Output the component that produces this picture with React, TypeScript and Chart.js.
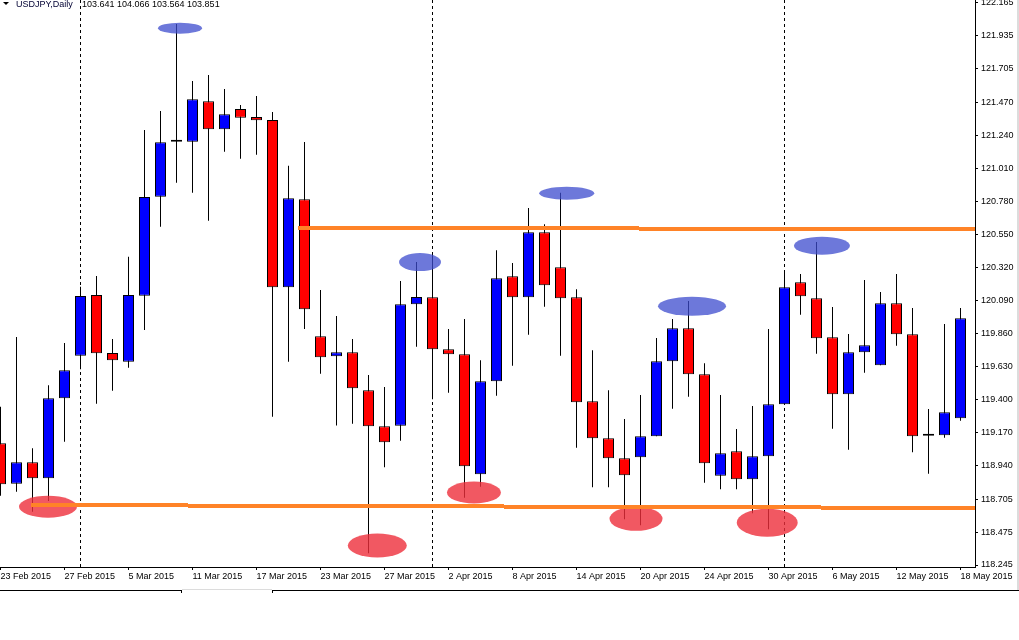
import { useEffect, useRef } from "react";
import { Chart, registerables } from "chart.js";

Chart.register(...registerables);

// ---------- data ----------
const dates = [
  "23 Feb 2015", "24 Feb 2015", "25 Feb 2015", "26 Feb 2015", "27 Feb 2015",
  "2 Mar 2015", "3 Mar 2015", "4 Mar 2015", "5 Mar 2015", "6 Mar 2015",
  "9 Mar 2015", "10 Mar 2015", "11 Mar 2015", "12 Mar 2015", "13 Mar 2015",
  "16 Mar 2015", "17 Mar 2015", "18 Mar 2015", "19 Mar 2015", "20 Mar 2015",
  "23 Mar 2015", "24 Mar 2015", "25 Mar 2015", "26 Mar 2015", "27 Mar 2015",
  "30 Mar 2015", "31 Mar 2015", "1 Apr 2015", "2 Apr 2015", "3 Apr 2015",
  "6 Apr 2015", "7 Apr 2015", "8 Apr 2015", "9 Apr 2015", "10 Apr 2015",
  "13 Apr 2015", "14 Apr 2015", "15 Apr 2015", "16 Apr 2015", "17 Apr 2015",
  "20 Apr 2015", "21 Apr 2015", "22 Apr 2015", "23 Apr 2015", "24 Apr 2015",
  "27 Apr 2015", "28 Apr 2015", "29 Apr 2015", "30 Apr 2015", "1 May 2015",
  "4 May 2015", "5 May 2015", "6 May 2015", "7 May 2015", "8 May 2015",
  "11 May 2015", "12 May 2015", "13 May 2015", "14 May 2015", "15 May 2015",
  "18 May 2015",
];

const opens = [
  119.094, 118.812, 118.961, 118.850, 119.408,
  119.705, 120.128, 119.724, 119.663, 120.123,
  120.814, 121.198, 121.198, 121.479, 121.284,
  121.426, 121.370, 121.349, 120.182, 120.796,
  119.840, 119.701, 119.729, 119.464, 119.213,
  119.217, 120.063, 120.112, 119.750, 119.715,
  118.878, 119.526, 120.259, 120.112, 120.566,
  120.322, 120.112, 119.387, 119.129, 118.989,
  118.996, 119.143, 119.666, 119.896, 119.575,
  118.868, 119.038, 118.843, 119.003, 119.366,
  120.217, 120.105, 119.833, 119.436, 119.729,
  119.638, 120.071, 119.854, 119.147, 119.150,
  119.268,
];

const highs = [
  119.349, 119.835, 119.059, 119.498, 119.794,
  120.186, 120.261, 119.821, 120.395, 121.279,
  121.412, 122.019, 121.621, 121.663, 121.565,
  121.454, 121.516, 121.405, 121.030, 121.196,
  120.163, 119.982, 119.821, 119.570, 119.487,
  120.226, 120.359, 120.407, 119.891, 119.961,
  119.673, 120.440, 120.352, 120.735, 120.621,
  120.842, 120.168, 119.743, 119.464, 119.263,
  119.431, 119.828, 119.961, 120.086, 119.652,
  119.431, 119.194, 119.354, 119.891, 120.296,
  120.275, 120.498, 120.045, 119.856, 120.233,
  120.149, 120.275, 120.038, 119.333, 119.926,
  120.038,
];

const lows = [
  118.728, 118.756, 118.617, 118.691, 119.105,
  119.610, 119.370, 119.461, 119.621, 119.884,
  120.605, 120.912, 120.842, 120.647, 121.128,
  121.079, 121.107, 119.279, 119.663, 119.891,
  119.579, 119.218, 119.231, 118.327, 118.927,
  119.112, 119.768, 119.401, 119.447, 118.714,
  118.791, 119.426, 119.635, 119.851, 120.047,
  119.705, 119.063, 118.787, 118.787, 118.564,
  118.522, 119.143, 119.335, 119.419, 118.819,
  118.773, 118.773, 118.606, 118.494, 119.361,
  119.991, 119.719, 119.196, 119.049, 119.586,
  119.638, 119.775, 119.031, 118.882, 119.133,
  119.252,
];

const closes = [
  118.808, 118.961, 118.850, 119.408, 119.603,
  120.121, 119.722, 119.673, 120.128, 120.812,
  121.193, 121.198, 121.493, 121.284, 121.389,
  121.365, 121.347, 120.182, 120.803, 120.029,
  119.694, 119.729, 119.478, 119.213, 119.101,
  120.063, 120.114, 119.750, 119.715, 118.934,
  119.526, 120.245, 120.112, 120.566, 120.196,
  120.105, 119.380, 119.129, 118.989, 118.871,
  119.143, 119.666, 119.896, 119.575, 118.954,
  119.024, 118.843, 119.003, 119.366, 120.182,
  120.119, 119.826, 119.436, 119.729, 119.778,
  120.071, 119.854, 119.143, 119.147, 119.310,
  119.966,
];

const yTickLabels = [
  "122.165", "121.935", "121.705", "121.470", "121.240", "121.010",
  "120.780", "120.550", "120.320", "120.090", "119.860", "119.630",
  "119.400", "119.170", "118.940", "118.705", "118.475", "118.245",
];
const xTickEvery = 4;

const titleSymbol = "USDJPY,Daily";
const titleValues = "103.641 104.066 103.564 103.851";

// annotations (candle index, price)
const resistanceLine = { fromIdx: 18.6, fromPrice: 120.5973, toPrice: 120.587 };
const supportLine = { fromIdx: 1.9, fromPrice: 118.6635, toPrice: 118.6427 };
const highMarks = [
  { idx: 11.22, price: 121.989 },
  { idx: 26.22, price: 120.358 },
  { idx: 35.39, price: 120.838 },
  { idx: 43.22, price: 120.050 },
  { idx: 51.34, price: 120.472 },
];
const lowMarks = [
  { idx: 2.97, price: 118.652 },
  { idx: 23.55, price: 118.381 },
  { idx: 29.59, price: 118.751 },
  { idx: 39.72, price: 118.567 },
  { idx: 47.92, price: 118.540 },
];

// ---------- styles / layout ----------
const FONT = "'Liberation Sans', Arial, sans-serif";
const BULL = "#0000ff";
const BEAR = "#ff0000";
const ORANGE = "#ff8327";
const HIGH_FILL = "rgba(60,75,205,0.75)";
const LOW_FILL = "rgba(238,46,59,0.8)";
const highMarkR = [[22, 5.5], [21, 9], [27.5, 6.5], [34, 9.5], [28, 9]];
const lowMarkR = [[29, 11], [29.5, 12], [27, 11], [26.5, 12], [30.5, 14]];
const X_MIN = -1 / 32;
const X_MAX = dates.length - 1 + 0.906;
const Y_MAX = 122.1859;
const Y_MIN = 118.2311;

function monthStarts(): number[] {
  const out: number[] = [];
  for (let i = 1; i < dates.length; i++) {
    if (dates[i].split(" ")[1] !== dates[i - 1].split(" ")[1]) out.push(i);
  }
  return out;
}

function drawStepLine(ctx: CanvasRenderingContext2D, x0: number, y0: number, x1: number, y1: number, w: number) {
  const xs = Math.round(x0);
  const xe = Math.round(x1);
  const yAt = (x: number) => Math.round(y0 + ((y1 - y0) * (x - x0)) / (x1 - x0));
  let runStart = xs;
  let runY = yAt(xs);
  for (let x = xs + 1; x <= xe; x++) {
    const y = yAt(x);
    if (y !== runY) {
      ctx.fillRect(runStart, runY - w / 2, x - runStart, w);
      runStart = x;
      runY = y;
    }
  }
  ctx.fillRect(runStart, runY - w / 2, xe - runStart, w);
}

const decoPlugin = {
  id: "mt4deco",
  beforeDatasetsDraw(chart: any) {
    const { ctx, chartArea, scales } = chart;
    ctx.save();
    ctx.strokeStyle = "#000";
    ctx.lineWidth = 1;
    ctx.setLineDash([3, 3]);
    for (const i of monthStarts()) {
      const px = Math.floor(scales.x.getPixelForValue(i)) + 0.5;
      ctx.beginPath();
      ctx.moveTo(px, chartArea.top);
      ctx.lineTo(px, chartArea.bottom);
      ctx.stroke();
    }
    ctx.restore();
  },
  afterDatasetsDraw(chart: any) {
    const { ctx, chartArea, scales } = chart;
    const xs = scales.x;
    const ys = scales.y;
    ctx.save();
    ctx.beginPath();
    ctx.rect(chartArea.left, chartArea.top, chartArea.right - chartArea.left, chartArea.bottom - chartArea.top);
    ctx.clip();
    highMarks.forEach((m, k) => {
      ctx.fillStyle = HIGH_FILL;
      ctx.beginPath();
      ctx.ellipse(xs.getPixelForValue(m.idx), ys.getPixelForValue(m.price), highMarkR[k][0], highMarkR[k][1], 0, 0, Math.PI * 2);
      ctx.fill();
    });
    lowMarks.forEach((m, k) => {
      ctx.fillStyle = LOW_FILL;
      ctx.beginPath();
      ctx.ellipse(xs.getPixelForValue(m.idx), ys.getPixelForValue(m.price), lowMarkR[k][0], lowMarkR[k][1], 0, 0, Math.PI * 2);
      ctx.fill();
    });
    ctx.fillStyle = ORANGE;
    for (const ln of [resistanceLine, supportLine]) {
      drawStepLine(
        ctx,
        xs.getPixelForValue(ln.fromIdx),
        ys.getPixelForValue(ln.fromPrice),
        xs.getPixelForValue(X_MAX),
        ys.getPixelForValue(ln.toPrice),
        4
      );
    }
    ctx.restore();
  },
  afterDraw(chart: any) {
    const { ctx } = chart;
    ctx.save();
    // header
    ctx.fillStyle = "#000";
    ctx.beginPath();
    ctx.moveTo(3, 2);
    ctx.lineTo(9, 2);
    ctx.lineTo(6, 5);
    ctx.closePath();
    ctx.fill();
    ctx.font = `9px ${FONT}`;
    ctx.textBaseline = "alphabetic";
    ctx.textAlign = "left";
    ctx.fillStyle = "#000033";
    ctx.fillText(titleSymbol, 16, 7);
    ctx.fillStyle = "#000";
    ctx.fillText(titleValues, 82, 7);
    // bottom tab strip
    ctx.fillStyle = "#000";
    ctx.fillRect(0, 590, 182, 1);
    ctx.fillRect(181, 590, 1, 3);
    ctx.fillRect(272, 590, 1, 3);
    ctx.fillRect(272, 590, 747, 1);
    ctx.fillStyle = "#dcdcdc";
    ctx.fillRect(182, 589, 90, 1);
    ctx.fillRect(1017, 0, 2, 590);
    ctx.restore();
  },
};

export default function App() {
  const ref = useRef<HTMLCanvasElement | null>(null);

  useEffect(() => {
    if (!ref.current) return;
    const idx = dates.map((_, i) => i);
    const bodyColors = idx.map((i) =>
      closes[i] > opens[i] ? BULL : closes[i] < opens[i] ? BEAR : "#000"
    );
    const tickFont = { family: FONT, size: 9 };

    const chart = new Chart(ref.current, {
      type: "bar",
      data: {
        datasets: [
          {
            label: "wick",
            data: idx.map((i) => ({ x: i, y: [lows[i], highs[i]] })) as any,
            backgroundColor: "#000",
            borderWidth: 0,
            barThickness: 1,
            maxBarThickness: 1,
            grouped: false,
            inflateAmount: 0,
            order: 2,
          } as any,
          {
            label: "body",
            data: idx.map((i) => ({ x: i, y: [opens[i], closes[i]] })) as any,
            backgroundColor: bodyColors,
            borderColor: "#000",
            borderWidth: 1,
            borderSkipped: false,
            barThickness: 11,
            maxBarThickness: 11,
            minBarLength: 2,
            grouped: false,
            inflateAmount: 0,
            order: 1,
          } as any,
        ],
      },
      options: {
        responsive: false,
        animation: false,
        devicePixelRatio: 1,
        layout: { padding: 0, autoPadding: false } as any,
        plugins: {
          legend: { display: false },
          tooltip: { enabled: false },
          title: { display: false },
        },
        scales: {
          x: {
            type: "linear",
            min: X_MIN,
            max: X_MAX,
            offset: false,
            bounds: "data",
            afterBuildTicks: (s: any) => {
              s.ticks = idx.filter((i) => i % xTickEvery === 0).map((v) => ({ value: v }));
            },
            afterFit: (s: any) => {
              s.height = 73;
              s.paddingLeft = 0;
              s.paddingRight = 0;
            },
            ticks: {
              callback: (v: any) => dates[Number(v)],
              align: "start",
              maxRotation: 0,
              minRotation: 0,
              autoSkip: false,
              padding: 1,
              color: "#000",
              font: tickFont,
            },
            grid: {
              offset: false,
              drawOnChartArea: false,
              drawTicks: true,
              tickLength: 3,
              color: "#000",
              lineWidth: 1,
            },
            border: { display: true, color: "#000", width: 1 },
          } as any,
          y: {
            type: "linear",
            position: "right",
            min: Y_MIN,
            max: Y_MAX,
            bounds: "data",
            afterBuildTicks: (s: any) => {
              s.ticks = yTickLabels.map((t) => ({ value: parseFloat(t) }));
            },
            afterFit: (s: any) => {
              s.width = 44;
              s.paddingTop = 0;
              s.paddingBottom = 0;
            },
            ticks: {
              callback: (_v: any, i: number) => yTickLabels[i],
              autoSkip: false,
              padding: 3,
              crossAlign: "near",
              color: "#000",
              font: tickFont,
            },
            grid: {
              drawOnChartArea: false,
              drawTicks: true,
              tickLength: 3,
              color: "#000",
              lineWidth: 1,
            },
            border: { display: true, color: "#000", width: 1 },
          } as any,
        },
      },
      plugins: [decoPlugin],
    });
    return () => chart.destroy();
  }, []);

  return (
    <div style={{ position: "absolute", left: 0, top: 0, width: 1019, height: 640, background: "#fff" }}>
      <canvas ref={ref} width={1019} height={640} style={{ display: "block" }} />
    </div>
  );
}
